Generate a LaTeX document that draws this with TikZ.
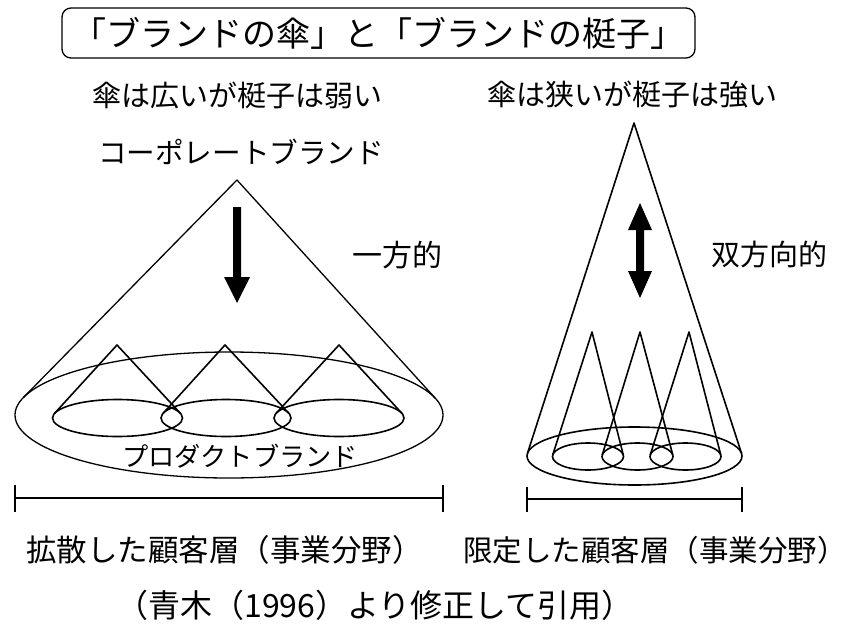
\documentclass[tikz,border=0pt]{standalone}
\usepackage{fontspec}
\setmainfont{Noto Sans CJK JP}
\begin{document}
\begin{tikzpicture}[x=1pt,y=-1pt,line join=round,
  ln/.style={line width=1.6pt},
  thin ln/.style={line width=1.3pt},
  bar/.style={line width=2pt},
  lbl/.style={inner sep=0pt},
  fs/.style={font=\fontsize{#1}{#1}\selectfont}]
\useasboundingbox (0,0) rectangle (846,624);
\fill[white] (0,0) rectangle (846,624);

% title
\node[draw, rounded corners=9pt, line width=1.3pt, minimum width=633pt,
      minimum height=50pt, inner sep=0pt, fs=34] (title) at (378.5,33)
      {「ブランドの傘」と「ブランドの梃子」};

% subtitles and labels
\node[lbl,fs=29] (sub1) at (237.5,95) {傘は広いが梃子は弱い};
\node[lbl,fs=29] (sub2) at (632,95) {傘は狭いが梃子は強い};
\node[lbl,fs=28.6] (corp) at (241,152) {コーポレートブランド};
\node[lbl,fs=30] (one) at (397,255) {一方的};
\node[lbl,fs=29] (two) at (769,254) {双方向的};
\node[lbl,fs=26.2] (prod) at (240,456) {プロダクトブランド};
\node[lbl,fs=30.5,anchor=west] (cust1) at (26,550) {拡散した顧客層（事業分野）};
\node[lbl,fs=29.5,anchor=west] (cust2) at (463,550)
      {限定した顧客層（事業分野\makebox[14pt][l]{）}};
\node[lbl,fs=32] (cite) at (375,605) {（青木（1996）より修正して引用）};

% ---------- left: wide umbrella ----------
\coordinate (LA) at (237,180);
\coordinate (LT1) at (23.4,397.5);
\coordinate (LT2) at (435.7,398.7);
\draw[thin ln] (229,415) ellipse [x radius=214, y radius=63];
\draw[thin ln] (LT1) -- (LA) -- (LT2);

% small product cones (left)
\foreach \ax/\cx [count=\i] in {117/117.5, 225/226, 339/339}{
  \coordinate (la\i) at (\ax,345);
  \coordinate (ll\i) at ({\cx-62.9},413.3);
  \coordinate (lr\i) at ({\cx+62.9},413.3);
  \draw[ln] (\cx,418) ellipse [x radius=65, y radius=18.5];
  \draw[ln] (ll\i) -- (la\i) -- (lr\i);
}

% one-way arrow
\fill (233,207) -- (241,207) -- (241,277) -- (250,277) -- (237,303)
      -- (224,277) -- (233,277) -- cycle;

% left bar
\coordinate (LB1) at (15,498);
\coordinate (LB2) at (443,498);
\draw[bar] (LB1) -- (LB2);
\draw[bar] ([yshift=13pt]LB1) -- ([yshift=-14pt]LB1);
\draw[bar] ([yshift=13pt]LB2) -- ([yshift=-14pt]LB2);

% ---------- right: narrow umbrella ----------
\coordinate (RA) at (634,123);
\coordinate (RT1) at (527.4,453.5);
\coordinate (RT2) at (741.6,453.5);
\draw[ln] (634.5,456) ellipse [x radius=107.5, y radius=29];
\draw[ln] (RT1) -- (RA) -- (RT2);

\foreach \ax/\cx [count=\i] in {592/588, 640/637.5, 689/685.5}{
  \coordinate (ra\i) at (\ax,332);
  \coordinate (rl\i) at ({\cx-35.3},455);
  \coordinate (rr\i) at ({\cx+35.3},455);
  \draw[ln] (\cx,456.5) ellipse [x radius=35.5, y radius=13.5];
  \draw[ln] (rl\i) -- (ra\i) -- (rr\i);
}

% two-way arrow
\fill (640,203) -- (652,230) -- (644,230) -- (644,271) -- (652,271)
      -- (640,298) -- (628,271) -- (636,271) -- (636,230) -- (628,230) -- cycle;

% right bar
\coordinate (RB1) at (527,499);
\coordinate (RB2) at (742,499);
\draw[bar] (RB1) -- (RB2);
\draw[bar] ([yshift=12pt]RB1) -- ([yshift=-13pt]RB1);
\draw[bar] ([yshift=12pt]RB2) -- ([yshift=-13pt]RB2);
\end{tikzpicture}
\end{document}
